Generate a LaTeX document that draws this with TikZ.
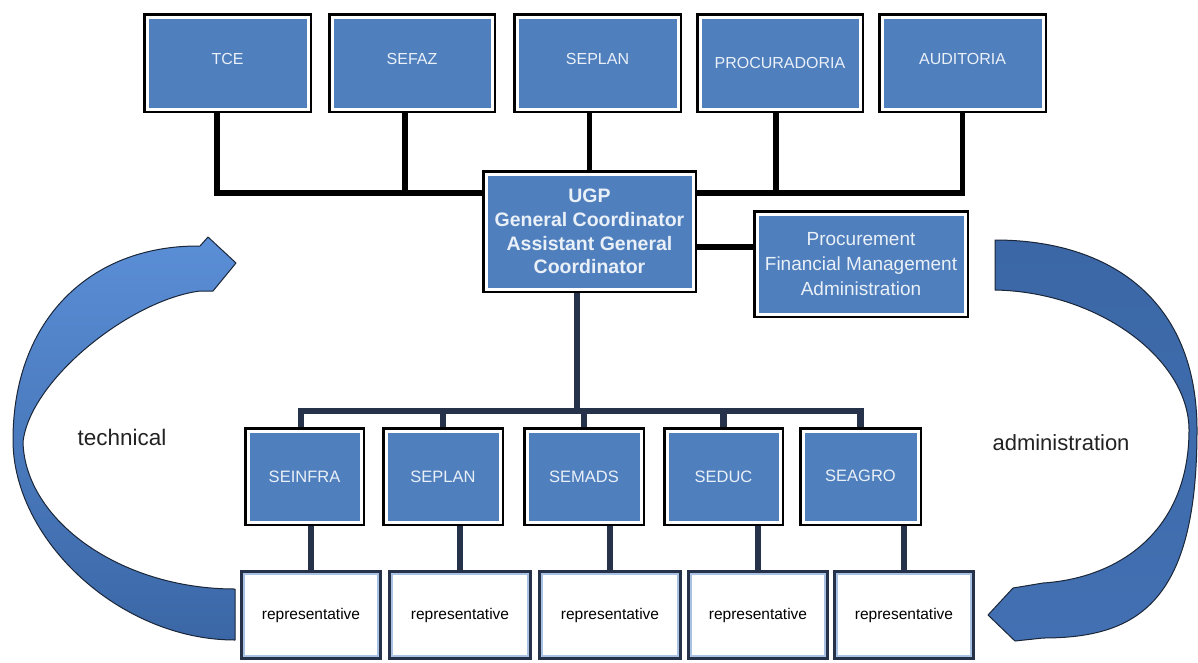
\documentclass[tikz,border=0pt]{standalone}
\usepackage{fontspec}
\setmainfont{Liberation Sans}
\usetikzlibrary{calc}
\pgfdeclarelayer{bg}
\pgfsetlayers{bg,main}
\definecolor{ublue}{HTML}{4F7FBD}
\definecolor{boxtext}{HTML}{EAF0F8}
\definecolor{navyline}{HTML}{25324A}
\definecolor{repedge}{HTML}{A9C2E4}
\definecolor{arrowedge}{HTML}{1B2638}
\definecolor{arrowlight}{HTML}{5A8ED6}
\definecolor{arrowdark}{HTML}{3B67A6}
\definecolor{arrowmid}{HTML}{4270B2}
\definecolor{labeltext}{HTML}{222222}
\begin{document}
\begin{tikzpicture}[x=1pt,y=-1pt,
  bbox/.style={rectangle, fill=ublue, draw=white, line width=3pt,
    preaction={draw=black, line width=8pt}, text=boxtext,
    font=\fontsize{16}{19}\selectfont, inner sep=0pt, align=center},
  topbox/.style={bbox, minimum height=92pt, text height=11.5pt, text depth=8pt},
  lowbox/.style={bbox, minimum height=91pt, font=\fontsize{16.5}{19}\selectfont},
  repbox/.style={rectangle, fill=white, draw=repedge, line width=2.5pt,
    preaction={draw=navyline, line width=8pt}, text=black,
    font=\fontsize{15.5}{18}\selectfont, inner sep=0pt, minimum height=82pt},
  blk/.style={line width=5.5pt, black},
  nav/.style={line width=6.5pt, navyline},
  sidelabel/.style={text=labeltext, inner sep=0pt}
]
\useasboundingbox (0,0) rectangle (1198,662);

% top row
\node[topbox, minimum width=161pt] (tce) at (227.5,63) {TCE};
\node[topbox, minimum width=160pt] (sefaz) at (412,63) {SEFAZ};
\node[topbox, minimum width=161pt] (seplan) at (597.5,63) {SEPLAN};
\node[bbox, minimum width=160pt, minimum height=92pt] (procur) at (780,63) {PROCURADORIA};
\node[topbox, minimum width=161pt] (audit) at (962.5,63) {AUDITORIA};

% centre
\node[bbox, minimum width=207pt, minimum height=115pt,
  font=\bfseries\fontsize{19.5}{23.7}\selectfont] (ugp) at (589.5,231.5)
  {UGP\\General Coordinator\\Assistant General\\Coordinator};
\node[bbox, minimum width=208pt, minimum height=100pt,
  font=\fontsize{19}{25}\selectfont] (pfa) at (861,264)
  {Procurement\\Financial Management\\Administration};

% secretariats
\node[lowbox, minimum width=113pt] (seinfra) at (304.5,476.5) {SEINFRA};
\node[lowbox, minimum width=114pt] (seplanb) at (443,476.5) {SEPLAN};
\node[lowbox, minimum width=114pt] (semads) at (584,476.5) {SEMADS};
\node[lowbox, minimum width=113pt] (seduc) at (723.5,476.5) {SEDUC};
\node[lowbox, minimum width=115pt, text height=12pt, text depth=3pt] (seagro) at (860.5,476.5) {SEAGRO};

% representatives
\node[repbox, minimum width=134pt] (rep1) at (311,615) {representative};
\node[repbox, minimum width=136pt] (rep2) at (460,615) {representative};
\node[repbox, minimum width=136pt] (rep3) at (610,615) {representative};
\node[repbox, minimum width=134pt] (rep4) at (758,615) {representative};
\node[repbox, minimum width=134pt] (rep5) at (904,615) {representative};

% side labels
\node[sidelabel, font=\fontsize{22.5}{26}\selectfont] (tech) at (122,437) {technical};
\node[sidelabel, font=\fontsize{22}{26}\selectfont] (admin) at (1061,443) {administration};

% connectors
\coordinate (bus) at (0,193);
\coordinate (mid) at (0,247);
\coordinate (bbus) at (0,411);
\begin{pgfonlayer}{bg}
\fill[white] (0,0) rectangle (1198,662);
\draw[blk] ([xshift=-10.5pt]tce.south) |- (ugp.west |- bus);
\draw[blk] ([xshift=-7pt]sefaz.south) |- (ugp.west |- bus);
\draw[blk] (seplan.south -| ugp.north) -- (ugp.north);
\draw[blk] ([xshift=-4pt]procur.south) |- (ugp.east |- bus);
\draw[blk] (audit.south) |- (ugp.east |- bus);
\draw[blk] (ugp.east |- mid) -- (pfa.west |- mid);
\draw[nav] ([xshift=-12.5pt]ugp.south) |- (semads.north |- bbus);
\draw[nav] ([xshift=-3.5pt]seinfra.north) |- (seagro.north |- bbus) -- (seagro.north);
\draw[nav] (seplanb.north) -- (seplanb.north |- bbus);
\draw[nav] (semads.north) -- (semads.north |- bbus);
\draw[nav] (seduc.north) -- (seduc.north |- bbus);
\draw[nav] (rep1.north) -- (rep1.north |- seinfra.south);
\draw[nav] (rep2.north) -- (rep2.north |- seplanb.south);
\draw[nav] (rep3.north) -- (rep3.north |- semads.south);
\draw[nav] (rep4.north) -- (rep4.north |- seduc.south);
\draw[nav] (rep5.north) -- (rep5.north |- seagro.south);
\end{pgfonlayer}

% left curved arrow (technical)
\draw[arrowedge, line width=1pt, line join=round, top color=arrowlight, bottom color=arrowdark]
  (235,640) .. controls (120,640) and (13,540) .. (13,440)
  .. controls (13,320) and (90,245) .. (200,246)
  -- (208,237) -- (236,263) -- (213,291) -- (200,291)
  .. controls (130,300) and (30,380) .. (23,442)
  .. controls (25,520) and (120,589) .. (235,589)
  -- cycle;

% right curved arrow (administration)
\draw[arrowedge, line width=1pt, line join=round, top color=arrowdark, bottom color=arrowmid]
  (995,240) .. controls (1110,240) and (1197,300) .. (1197,430)
  .. controls (1197,600) and (1140,638) .. (1043,638)
  -- (1015,641) -- (988,615) -- (1013,588) -- (1043,583)
  .. controls (1120,578) and (1189,530) .. (1189,430)
  .. controls (1189,360) and (1100,292) .. (995,290)
  -- cycle;
\end{tikzpicture}
\end{document}
